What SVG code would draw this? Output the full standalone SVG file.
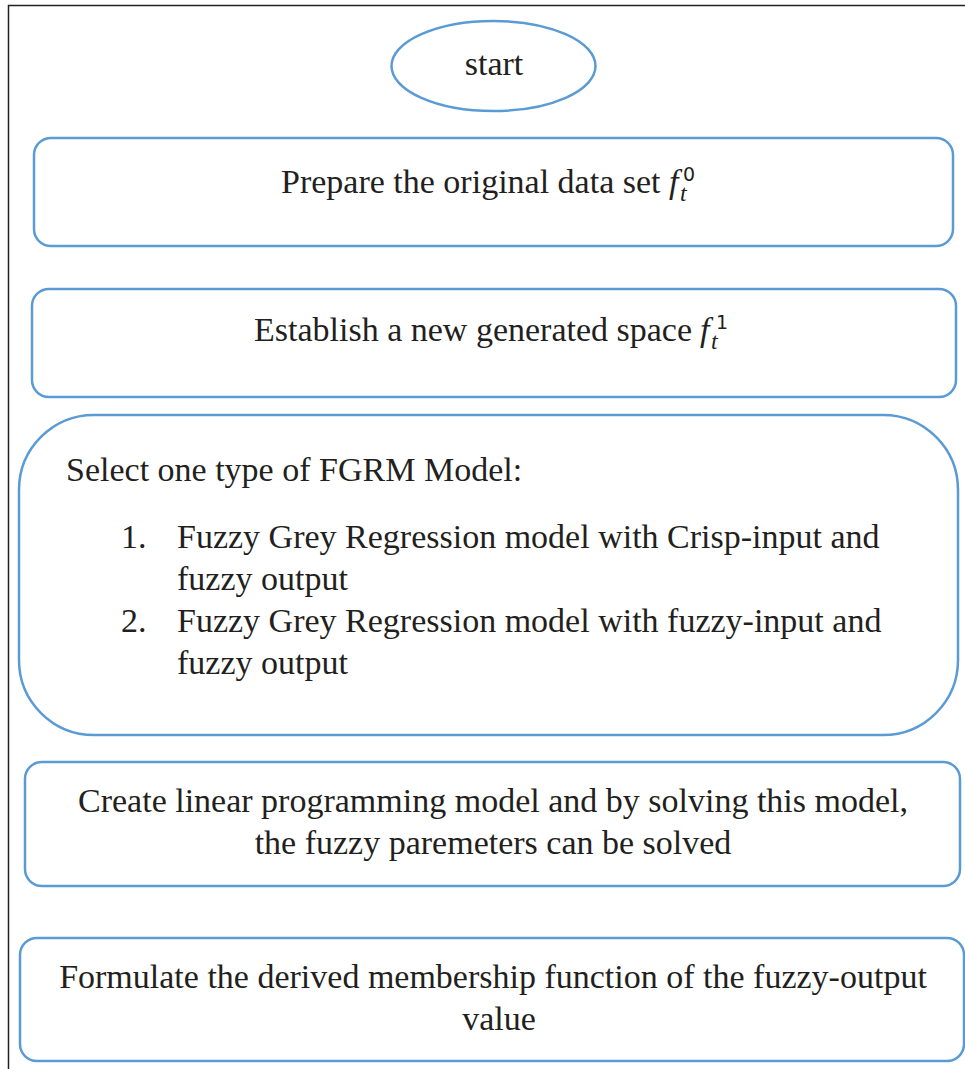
<svg xmlns="http://www.w3.org/2000/svg" width="965" height="1069" viewBox="0 0 965 1069">
<style>
.box{fill:#fff;stroke:#5b9bd5;stroke-width:2.5}
.t{font-family:"Liberation Serif","Times New Roman",serif;font-size:34px;fill:#231f20}
.c{text-anchor:middle}
.m{font-family:"Liberation Serif","Times New Roman",serif;font-style:italic;fill:#231f20}
.s{font-family:"DejaVu Sans","Liberation Sans",sans-serif;fill:#231f20}
</style>
<rect width="965" height="1069" fill="#fff"/>
<g id="frame">
<path d="M8.5 1069 V5.5 H965" fill="none" stroke="#222" stroke-width="1.5"/>
</g>
<g id="connectors"></g>
<g id="start">
<ellipse class="box" cx="493.5" cy="66" rx="102" ry="45"/>
<text class="t c" x="494" y="75">start</text>
</g>
<g id="prepare">
<rect class="box" x="34" y="138" width="919" height="108" rx="17"/>
<text class="t" x="281" y="193">Prepare the original data set </text>
<text class="m" x="669" y="193" font-size="34">f</text>
<text class="m" x="680" y="201" font-size="24">t</text>
<text class="s" x="683" y="181" font-size="19">0</text>
</g>
<g id="establish">
<rect class="box" x="32" y="289" width="924" height="108" rx="17"/>
<text class="t" x="254" y="341">Establish a new generated space </text>
<text class="m" x="700" y="341" font-size="34">f</text>
<text class="m" x="711" y="349" font-size="24">t</text>
<text class="s" x="716" y="329" font-size="19">1</text>
</g>
<g id="select">
<rect class="box" x="19" y="415" width="939" height="320" rx="75"/>
<text class="t" x="66" y="481">Select one type of FGRM Model:</text>
<text class="t" x="121" y="548">1.</text>
<text class="t" x="177" y="548">Fuzzy Grey Regression model with Crisp-input and</text>
<text class="t" x="177" y="590">fuzzy output</text>
<text class="t" x="121" y="632">2.</text>
<text class="t" x="177" y="632">Fuzzy Grey Regression model with fuzzy-input and</text>
<text class="t" x="177" y="674">fuzzy output</text>
</g>
<g id="linear">
<rect class="box" x="25" y="762" width="935" height="124" rx="17"/>
<text class="t c" x="493" y="812">Create linear programming model and by solving this model,</text>
<text class="t c" x="493" y="854">the fuzzy paremeters can be solved</text>
</g>
<g id="formulate">
<rect class="box" x="20" y="938" width="944" height="123" rx="17"/>
<text class="t c" x="493" y="988">Formulate the derived membership function of the fuzzy-output</text>
<text class="t c" x="499" y="1030">value</text>
</g>
</svg>
